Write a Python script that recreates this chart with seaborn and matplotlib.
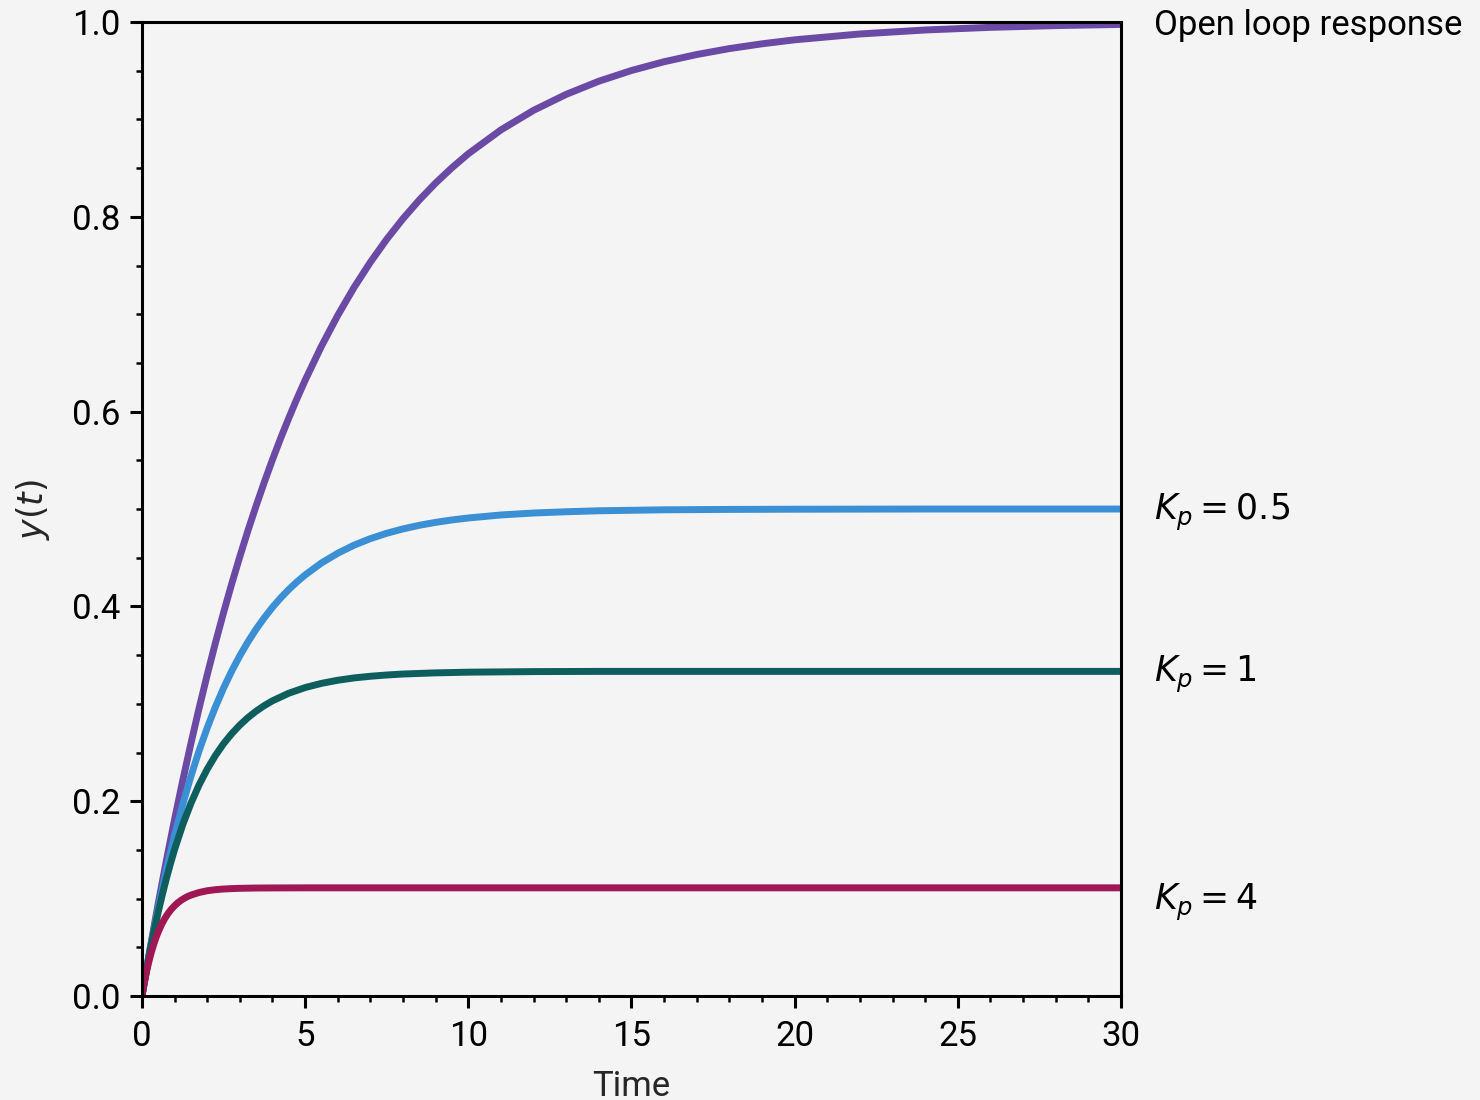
import matplotlib
matplotlib.use("Agg")
import matplotlib.pyplot as plt
from matplotlib.ticker import MultipleLocator
import pandas as pd
import seaborn as sns

# Plant output without feedback
open_time = [0, 0.25, 0.5, 0.75, 1, 1.25, 1.5, 1.75, 2, 2.25, 2.5, 2.75, 3,
             3.25, 3.5, 3.75, 4, 4.25, 4.5, 4.75, 5, 5.5, 6, 6.5, 7, 7.5, 8,
             8.5, 9, 9.5, 10, 11, 12, 13, 14, 15, 16, 17, 18, 19, 20, 22, 24,
             26, 28, 30]
open_loop = [0.0, 0.0488, 0.0952, 0.1393, 0.1813, 0.2212, 0.2592, 0.2953,
             0.3297, 0.3624, 0.3935, 0.4231, 0.4512, 0.4780, 0.5034, 0.5276,
             0.5507, 0.5726, 0.5934, 0.6133, 0.6321, 0.6671, 0.6988, 0.7275,
             0.7534, 0.7769, 0.7981, 0.8173, 0.8347, 0.8504, 0.8647, 0.8892,
             0.9093, 0.9257, 0.9392, 0.9502, 0.9592, 0.9666, 0.9727, 0.9776,
             0.9817, 0.9877, 0.9918, 0.9945, 0.9963, 0.9975]

# Closed loop, Kp = 0.5
kp05_time = [0, 0.25, 0.5, 0.75, 1, 1.25, 1.5, 1.75, 2, 2.25, 2.5, 2.75, 3,
             3.25, 3.5, 3.75, 4, 4.25, 4.5, 4.75, 5, 5.5, 6, 6.5, 7, 7.5, 8,
             8.5, 9, 9.5, 10, 11, 12, 13, 14, 16, 18, 20, 22, 24, 26, 28, 30]
kp_05 = [0.0, 0.0476, 0.0906, 0.1296, 0.1648, 0.1967, 0.2256, 0.2517,
         0.2753, 0.2967, 0.3161, 0.3336, 0.3494, 0.3637, 0.3767, 0.3884,
         0.3991, 0.4087, 0.4174, 0.4252, 0.4323, 0.4446, 0.4546, 0.4629,
         0.4696, 0.4751, 0.4796, 0.4833, 0.4863, 0.4888, 0.4908, 0.4939,
         0.4959, 0.4972, 0.4982, 0.4992, 0.4996, 0.4998, 0.4999, 0.5,
         0.5, 0.5, 0.5]

# Closed loop, Kp = 1
kp1_time = [0, 0.125, 0.25, 0.375, 0.5, 0.625, 0.75, 0.875, 1, 1.25, 1.5,
            1.75, 2, 2.25, 2.5, 2.75, 3, 3.25, 3.5, 3.75, 4, 4.5, 5, 5.5, 6,
            6.5, 7, 7.5, 8, 9, 10, 12, 14, 16, 18, 20, 22, 24, 26, 28, 30]
kp_1 = [0.0, 0.0241, 0.0464, 0.0672, 0.0864, 0.1042, 0.1208, 0.1361,
        0.1504, 0.1759, 0.1978, 0.2167, 0.2329, 0.2469, 0.2590, 0.2693,
        0.2782, 0.2859, 0.2925, 0.2982, 0.3031, 0.3109, 0.3167, 0.3210,
        0.3242, 0.3266, 0.3283, 0.3296, 0.3306, 0.3318, 0.3325, 0.3331,
        0.3333, 0.3333, 0.3333, 0.3333, 0.3333, 0.3333, 0.3333, 0.3333,
        0.3333]

# Closed loop, Kp = 4
kp4_time = [0, 0.05, 0.1, 0.15, 0.2, 0.25, 0.3, 0.35, 0.4, 0.45, 0.5, 0.6,
            0.7, 0.8, 0.9, 1.0, 1.1, 1.2, 1.3, 1.4, 1.5, 1.75, 2, 2.25, 2.5,
            2.75, 3, 3.5, 4, 5, 6, 8, 10, 12, 14, 16, 18, 20, 22, 24, 26, 28,
            30]
kp_4 = [0.0, 0.0096, 0.0183, 0.0263, 0.0336, 0.0403, 0.0464, 0.0519,
        0.0570, 0.0617, 0.0659, 0.0734, 0.0796, 0.0848, 0.0891, 0.0927,
        0.0958, 0.0983, 0.1004, 0.1022, 0.1036, 0.1063, 0.1081, 0.1092,
        0.1099, 0.1103, 0.1106, 0.1109, 0.1110, 0.1111, 0.1111, 0.1111,
        0.1111, 0.1111, 0.1111, 0.1111, 0.1111, 0.1111, 0.1111, 0.1111,
        0.1111, 0.1111, 0.1111]

series_names = ["open", "kp05", "kp1", "kp4"]
series_times = [open_time, kp05_time, kp1_time, kp4_time]
series_values = [open_loop, kp_05, kp_1, kp_4]
labels = ["Open loop response", r"$K_p = 0.5$", r"$K_p = 1$", r"$K_p = 4$"]
label_y = [1.0, 0.5, 1 / 3, 0.1]
colors = ["#6a4aa5", "#3b8fd4", "#0e5e5e", "#9f1853"]

df = pd.concat(
    [pd.DataFrame({"Time": t, "y": vals, "series": name})
     for name, t, vals in zip(series_names, series_times, series_values)],
    ignore_index=True,
)

sns.set_theme(style="ticks")
bg = "#f4f4f4"
plt.rcParams.update({
    "font.family": ["Roboto", "DejaVu Sans"],
    "font.size": 12,
    "figure.facecolor": bg,
    "axes.facecolor": bg,
    "axes.edgecolor": "black",
    "axes.linewidth": 1.1,
    "xtick.color": "black",
    "ytick.color": "black",
    "xtick.labelsize": 12.5,
    "ytick.labelsize": 12.5,
    "xtick.major.size": 4.3,
    "ytick.major.size": 4.3,
    "xtick.minor.size": 2.3,
    "ytick.minor.size": 2.3,
    "xtick.major.width": 1.1,
    "ytick.major.width": 1.1,
    "xtick.minor.width": 0.9,
    "ytick.minor.width": 0.9,
    "xtick.major.pad": 4.3,
    "mathtext.fontset": "dejavusans",
})

fig = plt.figure(figsize=(7.4, 5.5), dpi=200)
ax = fig.add_axes([0.0959, 0.0945, 0.6615, 0.8855])

sns.lineplot(data=df, x="Time", y="y", hue="series", hue_order=series_names,
             palette=colors, linewidth=2.5, legend=False, ax=ax)

# Right-hand labels next to each curve
for text, yv in zip(labels, label_y):
    ax.annotate(text, xy=(31, yv), xytext=(0, -1.2),
                textcoords="offset points", ha="left", va="center",
                fontsize=12.5, color="black", annotation_clip=False)

ax.set_xlim(0, 30)
ax.set_ylim(0, 1)
ax.xaxis.set_major_locator(MultipleLocator(5))
ax.xaxis.set_minor_locator(MultipleLocator(1))
ax.yaxis.set_major_locator(MultipleLocator(0.2))
ax.yaxis.set_minor_locator(MultipleLocator(0.05))
ax.set_xlabel("Time", fontsize=12.5, labelpad=6)
ax.set_ylabel(r"$y(t)$", fontsize=12.5, labelpad=7)

fig.savefig("out.png", dpi=200, facecolor=bg)
